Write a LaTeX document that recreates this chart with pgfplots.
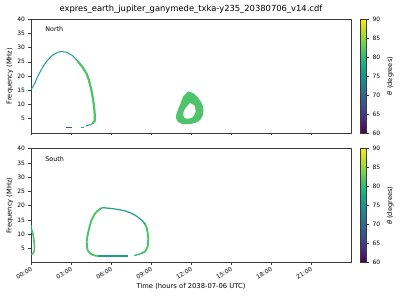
\documentclass[border=0pt]{standalone}
\usepackage{fontspec}
\setmainfont{DejaVu Sans}
\usepackage{pgfplots}
\pgfplotsset{compat=1.18}
\usepgfplotslibrary{colormaps}
\definecolor{vteal}{HTML}{1F9E89}
\definecolor{vgreen}{HTML}{4EC36B}
\definecolor{vblue}{HTML}{3B528B}
\definecolor{spine}{HTML}{3A3A3A}
\pgfplotsset{
  panel/.style={
    scale only axis, width=320bp, height=114bp,
    xmin=0, xmax=24, ymin=0, ymax=40,
    xtick={0,3,...,21}, ytick={5,10,...,40},
    tick align=outside, tick pos=left,
    major tick length=2.5bp,
    every tick/.style={spine, line width=0.5bp},
    axis line style={spine, line width=0.6bp},
    tick label style={font=\fontsize{6}{7}\selectfont},
    /pgf/number format/assume math mode=true,
    ylabel={Frequency (MHz)},
    every axis y label/.style={at={(axis description cs:-0.066,0.5)}, rotate=90, anchor=center, font=\fontsize{6.7}{8}\selectfont},
    every axis x label/.style={at={(axis description cs:0.5,0)}, anchor=center, yshift=-24bp, font=\fontsize{6.8}{8}\selectfont},
    no markers, line join=round, line cap=butt,
    colorbar, colormap/viridis, point meta min=60, point meta max=90,
    colorbar style={
      at={(parent axis.north east)}, anchor=north west, xshift=0.5bp,
      width=6.5bp, scale only axis,
      ytick={60,65,...,90}, xtick=\empty,
      yticklabel pos=right, ytick pos=right,
      tick align=outside, major tick length=2.5bp,
      every tick/.style={spine, line width=0.5bp},
      axis line style={spine, line width=0.6bp},
      tick label style={font=\fontsize{6}{7}\selectfont},
      /pgf/number format/assume math mode=true,
      ylabel={\textit{θ} (degrees)}, ylabel near ticks,
      ylabel style={font=\fontsize{6.7}{8}\selectfont},
    },
  }
}
\begin{document}
\begin{tikzpicture}
\useasboundingbox (0,0) rectangle (400bp,300bp);
% ---------------- North ----------------
\begin{axis}[panel, at={(31bp,167bp)}, anchor=south west, xticklabels={},
  title={expres\_earth\_jupiter\_ganymede\_txka-y235\_20380706\_v14.cdf},
  title style={font=\fontsize{8.4}{10}\selectfont, yshift=-4bp}]
\addplot[vteal, line width=1bp] coordinates {
 (0,15.2) (0.15,16.3) (0.3,17.6) (0.5,19.8) (0.77,22.2) (1.0,24.0) (1.2,25.3) (1.45,26.6) (1.65,27.4) (2.0,28.3) (2.3,28.6) (2.7,28.3) (3.1,27.2) (3.55,25.0)};
\addplot[vgreen, line width=2.2bp] coordinates {
 (3.5,25.2) (3.85,23.2) (4.15,21.0) (4.35,18.5) (4.52,15.2) (4.65,12.0) (4.73,9.3) (4.78,6.5) (4.78,4.3) (4.65,3.4)};
\addplot[vgreen!70!vteal, line width=1.2bp] coordinates {(4.7,3.5) (4.5,3.0) (4.3,2.7) (4.1,2.5)};
\addplot[vteal!60!vgreen, line width=1.1bp] coordinates {(3.77,2.0) (3.97,2.0)};
\addplot[vblue, line width=1.1bp] coordinates {(2.65,1.8) (3.08,1.8)};
\addplot[fill=vgreen, draw=none, smooth, tension=0.6] coordinates {
 (11.8,14.6) (11.42,12.8) (11.18,9.9) (10.93,7.0) (10.88,5.25) (11.05,3.85) (11.42,3.15) (12.05,3.25) (12.55,4.06) (12.85,5.8) (12.93,8.15) (12.8,10.5) (12.55,12.25) (12.17,14.0)} -- cycle;
\addplot[fill=white, draw=none, smooth, tension=0.6] coordinates {
 (11.93,10.5) (11.6,8.75) (11.42,7.0) (11.5,5.46) (11.8,5.0) (12.17,5.8) (12.35,7.6) (12.25,9.7)} -- cycle;
\node[anchor=west, font=\fontsize{6.4}{8}\selectfont] at (rel axis cs:0.034,0.91) {North};
\end{axis}
% ---------------- South ----------------
\begin{axis}[panel, at={(31bp,37.3bp)}, anchor=south west,
  xticklabels={00:00,03:00,06:00,09:00,12:00,15:00,18:00,21:00},
  xticklabel style={rotate=30, anchor=north east, inner sep=1bp},
  xlabel={Time (hours of 2038-07-06 UTC)}]
\addplot[vteal, line width=1bp] coordinates {(0.03,13.2) (0.05,10.5)};
\addplot[vgreen, line width=1.6bp] coordinates {(0.08,11.5) (0.15,10.0) (0.22,8.0) (0.26,5.5) (0.24,4.0) (0.12,3.1) (0.02,2.9)};
\addplot[vteal, line width=1.1bp] coordinates {(5.0,2.35) (7.3,2.35)};
\addplot[vteal!50!vgreen, line width=1.3bp] coordinates {(7.75,2.5) (8.05,2.9) (8.35,3.4)};
\addplot[vgreen, line width=1.9bp] coordinates {(8.3,3.3) (8.55,3.9) (8.75,5.6) (8.8,8.5) (8.7,12.0) (8.5,14.0)};
\addplot[vteal, line width=1.2bp] coordinates {(8.55,13.6) (8.42,14.4) (8.1,15.7) (7.8,16.7) (7.4,17.6) (7.05,18.2) (6.5,18.7) (6.05,19.0) (5.42,19.3) (5.18,19.0)};
\addplot[vgreen, line width=1.9bp] coordinates {(5.25,19.1) (5.05,18.4) (4.8,17.3) (4.6,15.5) (4.5,14.4) (4.38,12.5) (4.3,10.8) (4.2,8.5) (4.18,7.35) (4.2,5.5) (4.25,4.4) (4.4,3.4) (4.55,2.9) (4.8,2.5) (5.05,2.38)};
\node[anchor=west, font=\fontsize{6.4}{8}\selectfont] at (rel axis cs:0.034,0.91) {South};
\end{axis}
\end{tikzpicture}
\end{document}
